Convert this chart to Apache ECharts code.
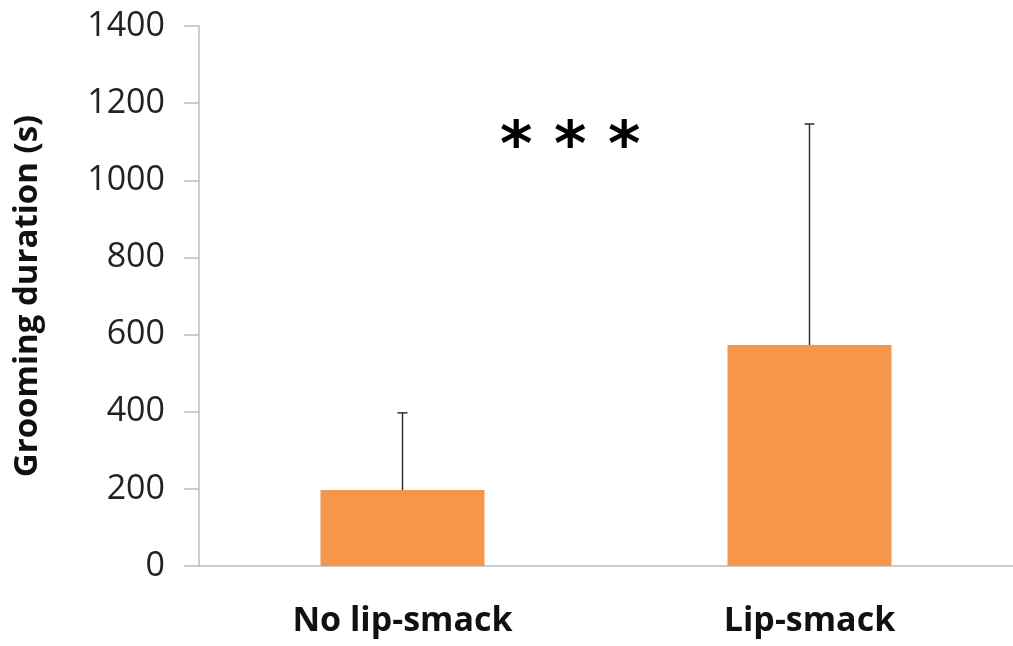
<!DOCTYPE html>
<html>
<head>
<meta charset="utf-8">
<script src="https://cdn.jsdelivr.net/npm/echarts@6/dist/echarts.min.js"></script>
<style>
  html, body { margin: 0; padding: 0; background: #fff; }
  #chart { width: 1013px; height: 646px; }
</style>
</head>
<body>
<div id="chart"></div>
<script>
// data
var categories = ['No lip-smack', 'Lip-smack'];
var means = [197, 573];
var upperErr = [397, 1146];
var yTicks = [0, 200, 400, 600, 800, 1000, 1200, 1400];

var chart = echarts.init(document.getElementById('chart'));

// error bars drawn from data via the axis scales
var errData = categories.map(function (c, i) {
  return [i, means[i], upperErr[i]];
});

var option = {
  animation: false,
  backgroundColor: '#fff',
  grid: { left: 199, right: -5, top: 26, bottom: 80, containLabel: false },
  xAxis: {
    type: 'category',
    data: categories,
    axisLine: { lineStyle: { color: '#bcbcbc', width: 1.5 } },
    axisTick: { show: false },
    axisLabel: {
      margin: 38,
      color: '#111',
      fontFamily: 'Open Sans',
      fontWeight: 'bold',
      fontSize: 34
    }
  },
  yAxis: {
    type: 'value',
    min: yTicks[0],
    max: yTicks[yTicks.length - 1],
    interval: 200,
    name: 'Grooming duration (s)',
    nameLocation: 'middle',
    nameGap: 155,
    nameTextStyle: {
      color: '#111',
      fontFamily: 'Open Sans',
      fontWeight: 'bold',
      fontSize: 33
    },
    axisLine: { show: true, lineStyle: { color: '#bcbcbc', width: 1.5 } },
    axisTick: { show: true, length: 15, lineStyle: { color: '#bcbcbc', width: 1.5 } },
    splitLine: { show: false },
    axisLabel: {
      margin: 34,
      color: '#222',
      fontFamily: 'Open Sans',
      fontSize: 34,
      formatter: function (v) { return String(v); }
    }
  },
  graphic: [{
    type: 'text',
    left: 500,
    top: 118,
    style: {
      text: '* * *',
      fill: '#000',
      font: 'bold 62px "DejaVu Sans"'
    }
  }],
  series: [
    {
      type: 'bar',
      data: means,
      barWidth: 164,
      itemStyle: { color: '#f5964a' },
      z: 2
    },
    {
      type: 'custom',
      data: errData,
      z: 3,
      renderItem: function (params, api) {
        var x = api.value(0);
        var lo = api.coord([x, api.value(1)]);
        var hi = api.coord([x, api.value(2)]);
        var cap = 5;
        var style = { stroke: '#333', lineWidth: 1.5 };
        return {
          type: 'group',
          children: [
            { type: 'line', shape: { x1: lo[0], y1: lo[1], x2: hi[0], y2: hi[1] }, style: style },
            { type: 'line', shape: { x1: hi[0] - cap, y1: hi[1], x2: hi[0] + cap, y2: hi[1] }, style: style }
          ]
        };
      }
    }
  ]
};

chart.setOption(option);
</script>
</body>
</html>
